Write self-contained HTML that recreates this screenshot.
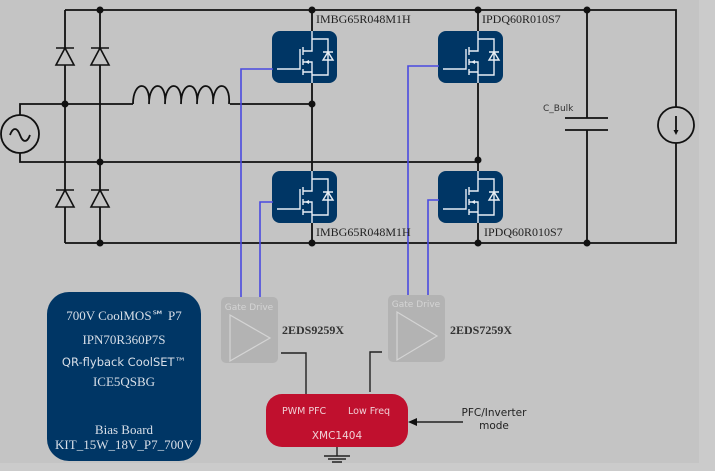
<!DOCTYPE html>
<html><head><meta charset="utf-8"><style>
html,body{margin:0;padding:0;background:#cbcbcb;}
svg{display:block}
</style></head><body>
<svg width="715" height="471" viewBox="0 0 715 471" xmlns="http://www.w3.org/2000/svg">
<defs>
<g id="fet">
  <rect x="0" y="0" width="65" height="52" rx="8" fill="#003665"/>
  <g stroke="#e8eef5" stroke-width="1.4" fill="none">
    <path d="M5 38 H28 V18"/>
    <path d="M31 16 V24 M31 28 V34 M31 38 V44"/>
    <path d="M31 20 H40 V0 M31 31 H40 V52 M31 41 H40"/>
    <path d="M40 8 H56 V44 H40"/>
    <path d="M51 21 H61 M56 21 L51 29 H61 Z"/>
  </g>
  <path d="M33 31 L37 29 V33 Z" fill="#e8eef5"/>
</g>
</defs>
<rect x="0" y="0" width="699" height="463" fill="#c4c4c4"/>
<g stroke="#111" stroke-width="1.8" fill="none">
  <path d="M65 10 H676 V107"/>
  <path d="M65 243 H676 V143"/>
  <path d="M65 10 V243 M100 10 V243"/>
  <path d="M20 115 V104 H133 M230 104 H312"/>
  <path d="M20 153 V162 H478"/>
  <path d="M133 104 c0-24 18-24 16 0 c0-24 18-24 16 0 c0-24 18-24 16 0 c0-24 18-24 16 0 c0-24 18-24 16 0 c0-24 18-24 16 0" />
  <path d="M312 10 V243 M478 10 V243"/>
  <path d="M587 10 V118 M587 130 V243"/>
  <path d="M565 118 H608 M565 130 H608"/>
</g>
<circle cx="20" cy="134" r="19" fill="none" stroke="#111" stroke-width="1.8"/>
<path d="M10 135 c3-8 7-8 10 0 c3 8 7 8 10 0" fill="none" stroke="#111" stroke-width="1.8"/>
<circle cx="676" cy="125" r="18" fill="#c4c4c4" stroke="#111" stroke-width="1.8"/>
<path d="M676 116 V132" stroke="#111" stroke-width="1.8"/><path d="M673.5 130 L676 135 L678.5 130Z" fill="#111"/>
<g fill="#c4c4c4" stroke="#111" stroke-width="1.6">
  <path d="M56 48 H74 M65 48 L56 65 H74 Z"/>
  <path d="M91 48 H109 M100 48 L91 65 H109 Z"/>
  <path d="M56 190 H74 M65 190 L56 207 H74 Z"/>
  <path d="M91 190 H109 M100 190 L91 207 H109 Z"/>
</g>
<g fill="#111">
  <circle cx="100" cy="10" r="3.5"/><circle cx="100" cy="243" r="3.5"/>
  <circle cx="65" cy="104" r="3.5"/><circle cx="100" cy="162" r="3.5"/>
  <circle cx="312" cy="10" r="3.5"/><circle cx="312" cy="104" r="3.5"/><circle cx="312" cy="243" r="3.5"/>
  <circle cx="478" cy="10" r="3.5"/><circle cx="478" cy="160" r="3.5"/><circle cx="478" cy="243" r="3.5"/>
  <circle cx="587" cy="10" r="3.5"/><circle cx="587" cy="243" r="3.5"/>
</g>
<use href="#fet" x="272" y="31"/>
<use href="#fet" x="272" y="171"/>
<use href="#fet" x="438" y="31"/>
<use href="#fet" x="438" y="171"/>
<g fill="none" stroke="#4a4ae0" stroke-width="1.6">
  <path d="M273 69 H241 V297"/>
  <path d="M273 202 H260 V297"/>
  <path d="M439 66 H408 V296"/>
  <path d="M439 200 H428 V296"/>
</g>
<g font-family="Liberation Serif, serif" font-size="12" fill="#222">
  <text x="316" y="23">IMBG65R048M1H</text>
  <text x="316" y="236">IMBG65R048M1H</text>
  <text x="482" y="23">IPDQ60R010S7</text>
  <text x="484" y="236">IPDQ60R010S7</text>
  <text x="282" y="334" font-weight="bold" fill="#333">2EDS9259X</text>
  <text x="450" y="334" font-weight="bold" fill="#333">2EDS7259X</text>
</g>
<text x="543" y="111" font-family="DejaVu Sans, sans-serif" font-size="9" fill="#333">C_Bulk</text>
<g>
  <rect x="221" y="297" width="57" height="66" rx="5" fill="#b3b3b3"/>
  <text x="249" y="310" font-family="DejaVu Sans, sans-serif" font-size="9" fill="#d4d4d4" text-anchor="middle">Gate Drive</text>
  <path d="M230 315 L270 338 L230 361 Z" fill="none" stroke="#d4d4d4" stroke-width="1.2"/>
  <rect x="388" y="295" width="57" height="67" rx="5" fill="#b3b3b3"/>
  <text x="416" y="307" font-family="DejaVu Sans, sans-serif" font-size="9" fill="#d4d4d4" text-anchor="middle">Gate Drive</text>
  <path d="M397 312 L437 336 L397 360 Z" fill="none" stroke="#d4d4d4" stroke-width="1.2"/>
</g>
<g fill="none" stroke="#222" stroke-width="1.4">
  <path d="M281 353 H306 V394"/>
  <path d="M382 352 H370 V392"/>
  <path d="M463 422 H414"/>
  <path d="M337 447 V456 M324 456 H350 M328 459 H346 M332 462 H342"/>
</g>
<path d="M408 422 L417 418 V426 Z" fill="#111"/>
<rect x="47" y="292" width="154" height="169" rx="22" fill="#003665"/>
<g font-family="Liberation Serif, serif" font-size="13" fill="#d8dfe8" text-anchor="middle">
  <text x="124" y="320">700V CoolMOS℠ P7</text>
  <text x="124" y="344">IPN70R360P7S</text>
  <text x="124" y="386">ICE5QSBG</text>
  <text x="124" y="434">Bias Board</text>
  <text x="124" y="449">KIT_15W_18V_P7_700V</text>
</g>
<text x="124" y="366" font-family="DejaVu Sans, sans-serif" font-size="11.5" fill="#d8dfe8" text-anchor="middle">QR-flyback CoolSET™</text>
<rect x="266" y="394" width="142" height="53" rx="16" fill="#c0102e"/>
<g font-family="DejaVu Sans, sans-serif" font-size="9.5" fill="#f0d0d6">
  <text x="282" y="414">PWM PFC</text>
  <text x="348" y="414">Low Freq</text>
  <text x="337" y="439" font-size="10.5" text-anchor="middle">XMC1404</text>
</g>
<g font-family="DejaVu Sans, sans-serif" font-size="10.5" fill="#222" text-anchor="middle">
  <text x="494" y="416">PFC/Inverter</text>
  <text x="494" y="429">mode</text>
</g>
</svg>
</body></html>
